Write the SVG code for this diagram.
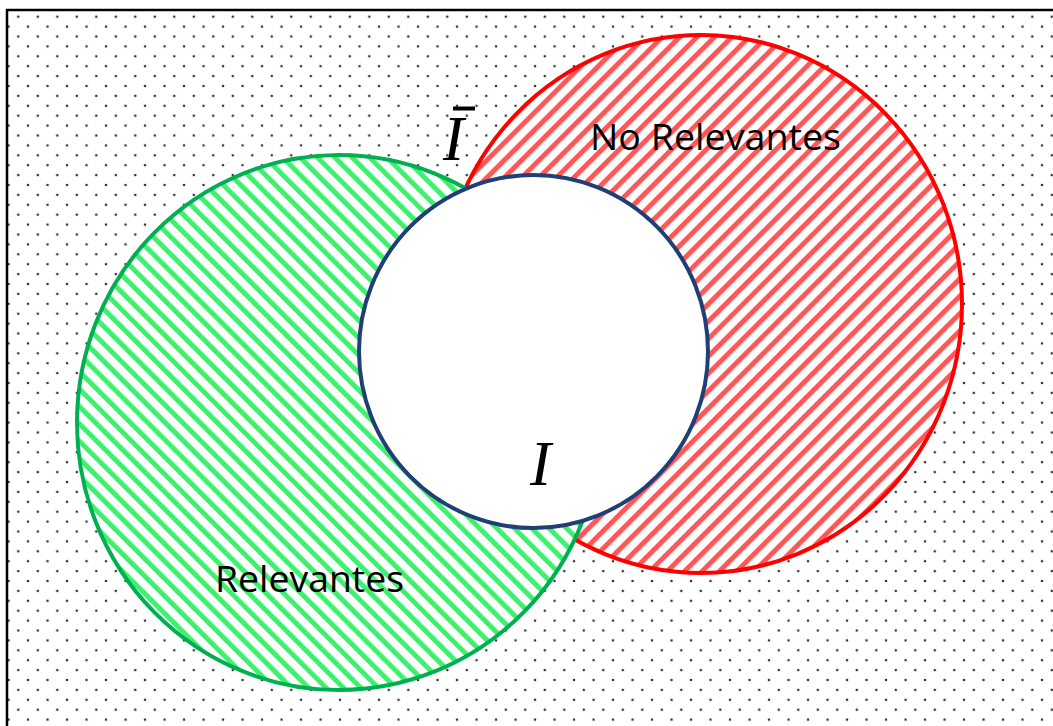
<svg xmlns="http://www.w3.org/2000/svg" width="1053" height="726" viewBox="0 0 1053 726">
  <defs>
    <pattern id="dots" patternUnits="userSpaceOnUse" x="18.3" y="16.7" width="19.5" height="19.8">
      <circle cx="0" cy="0" r="1.3" fill="#333333"/>
      <circle cx="19.5" cy="0" r="1.3" fill="#333333"/>
      <circle cx="0" cy="19.8" r="1.3" fill="#333333"/>
      <circle cx="19.5" cy="19.8" r="1.3" fill="#333333"/>
      <circle cx="9.75" cy="9.9" r="1.3" fill="#333333"/>
    </pattern>
    <pattern id="redStripes" patternUnits="userSpaceOnUse" width="12.3" height="12.3" patternTransform="rotate(45)">
      <rect width="12.3" height="12.3" fill="#ffffff"/>
      <rect x="0" y="0" width="5" height="12.3" fill="#ff5757"/>
    </pattern>
    <pattern id="greenStripes" patternUnits="userSpaceOnUse" width="12.3" height="12.3" patternTransform="rotate(-45)">
      <rect width="12.3" height="12.3" fill="#ffffff"/>
      <rect x="0" y="0" width="5" height="12.3" fill="#3ef06e"/>
    </pattern>
    <style>
      .lbl { font-family: "Open Sans", "Liberation Sans", sans-serif; font-size: 37px; fill: #000; }
      .math { font-family: "Liberation Serif", "DejaVu Serif", serif; font-style: italic; font-size: 63px; fill: #000; }
    </style>
  </defs>

  <g id="background">
    <rect x="0" y="0" width="1053" height="726" fill="#ffffff"/>
    <rect x="7" y="10" width="1080" height="740" fill="url(#dots)" stroke="#000" stroke-width="2.5"/>
  </g>

  <g id="no-relevantes">
    <ellipse cx="701" cy="304" rx="261" ry="269" fill="url(#redStripes)" stroke="#ff0000" stroke-width="4"/>
    <text class="lbl" x="590" y="150" textLength="251" lengthAdjust="spacingAndGlyphs">No Relevantes</text>
  </g>

  <g id="relevantes">
    <ellipse cx="339" cy="422.5" rx="262" ry="267.5" fill="url(#greenStripes)" stroke="#00b050" stroke-width="4"/>
    <text class="lbl" x="215" y="592" textLength="189" lengthAdjust="spacingAndGlyphs">Relevantes</text>
  </g>

  <g id="interseccion">
    <ellipse cx="533.5" cy="351.5" rx="174.5" ry="176.5" fill="#ffffff" stroke="#203f74" stroke-width="4"/>
    <text class="math" x="530" y="485">I</text>
  </g>

  <g id="i-barra">
    <text class="math" x="443" y="160">I</text>
    <rect x="453" y="106.5" width="22" height="4" fill="#000"/>
  </g>
</svg>
